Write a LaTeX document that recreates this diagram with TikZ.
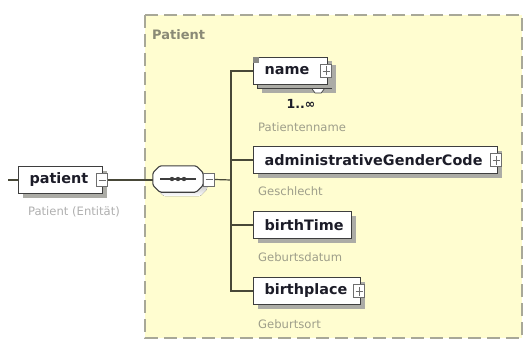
\documentclass[tikz,border=0pt]{standalone}
\usepackage{fontspec}
\setmainfont{DejaVu Sans}
\usetikzlibrary{shadows}

\definecolor{groupfill}{RGB}{255,253,208}
\definecolor{groupedge}{RGB}{168,168,152}
\definecolor{edgeline}{RGB}{72,72,56}
\definecolor{boxline}{RGB}{62,62,62}
\definecolor{shade}{RGB}{172,172,166}
\definecolor{pmline}{RGB}{110,110,110}
\definecolor{labelgray}{RGB}{158,158,138}
\definecolor{outergray}{RGB}{175,175,175}
\definecolor{titlegray}{RGB}{138,138,118}
\definecolor{nametext}{RGB}{28,28,40}

% element caption: a fixed-width box with the name set flush left
\newcommand\elemtext[2]{\makebox[#1][l]{\hspace*{11pt}#2}}
% outline of a box with cut corners, laid over the node #1
\newcommand\chamferpath[1]{([xshift=7pt]#1.north west) -- ([xshift=-7pt]#1.north east)
  -- ([yshift=-7pt]#1.north east) -- ([yshift=7pt]#1.south east) -- ([xshift=-7pt]#1.south east)
  -- ([xshift=7pt]#1.south west) -- ([yshift=7pt]#1.south west) -- ([yshift=-7pt]#1.north west) -- cycle}

\tikzset{
  boxshadow/.style={drop shadow={shadow xshift=4pt, shadow yshift=-4pt, fill=shade, opacity=1}},
  elem/.style={draw=boxline, fill=white, line width=1.1pt, minimum height=27pt,
    inner sep=0pt, anchor=west, text=nametext,
    font=\bfseries\fontsize{14.4}{17}\selectfont, boxshadow},
  pmbox/.style={draw=pmline, fill=white, line width=0.8pt, minimum width=11pt,
    minimum height=13pt, inner sep=0pt},
  minusbox/.style={pmbox, path picture={
    \draw[pmline, line width=0.9pt]
      ([xshift=2pt]path picture bounding box.west) -- ([xshift=-2pt]path picture bounding box.east);}},
  plusbox/.style={pmbox, path picture={
    \draw[pmline, line width=0.9pt]
      ([xshift=2pt]path picture bounding box.west) -- ([xshift=-2pt]path picture bounding box.east)
      ([yshift=2pt]path picture bounding box.south) -- ([yshift=-2pt]path picture bounding box.north);}},
  seqframe/.style={minimum width=50pt, minimum height=26pt, inner sep=0pt},
  conn/.style={draw=edgeline, line width=1.2pt},
  note/.style={anchor=west, text=labelgray, inner sep=0pt, font=\fontsize{11.6}{14}\selectfont},
}

\begin{document}
\begin{tikzpicture}[x=1pt,y=-1pt]
\useasboundingbox (0,0) rectangle (526,350);

% complex type group
\draw[groupedge, fill=groupfill, line width=1.3pt, dash pattern=on 13pt off 6pt]
  (145,15) rectangle (522,338);
\node[anchor=west, inner sep=0pt, text=titlegray, font=\bfseries\fontsize{13}{15}\selectfont]
  (grouptitle) at (152,35) {Patient};

% root element
\coordinate (stub) at (8,180);
\node[elem] (patient) at (18,180) {\elemtext{84pt}{patient}};
\node[minusbox] (patientpm) at ([xshift=-1pt]patient.east) {};
\node[inner sep=0pt, text=outergray, font=\fontsize{11.6}{14}\selectfont]
  (patientnote) at (74,212) {Patient (Entität)};

% sequence compositor (box with cut corners)
\node[seqframe] (seqshadow) at (182,183) {};
\node[seqframe] (seq) at (178,179) {};
\fill[shade, rounded corners=1.5pt] \chamferpath{seqshadow};
\filldraw[draw=boxline, fill=white, line width=1.1pt, rounded corners=1.5pt] \chamferpath{seq};
\draw[boxline, line width=1.2pt] ([xshift=-18pt]seq.center) -- ([xshift=18pt]seq.center);
\foreach \dx in {-6,0,6}
  \fill[boxline] ([xshift=\dx pt]seq.center) circle (2.2pt);
\node[minusbox] (seqpm) at (209,179.5) {};
\coordinate (bus) at (231,180);

% child elements
\node[elem] (nameback) at (257,75) {\elemtext{74pt}{}};
\node[elem, drop shadow={opacity=0}] (name) at (253,71) {\elemtext{74pt}{name}};
\fill[shade!80!black] (name.north west) rectangle ([xshift=6pt,yshift=-6pt]name.north west);
\node[plusbox] (namepm) at ([xshift=-2pt]name.east) {};
\draw[boxline, fill=white, line width=0.7pt]
  ([xshift=-20pt]nameback.south east) -- ([xshift=-17pt,yshift=-4pt]nameback.south east)
  -- ([xshift=-11pt,yshift=-4pt]nameback.south east) -- ([xshift=-8pt]nameback.south east);
\node[inner sep=0pt, text=nametext, font=\bfseries\fontsize{12.5}{14}\selectfont]
  (namecard) at (301,104) {1..∞};
\node[note] (namenote) at (258,127) {Patientenname};

\node[elem] (agc) at (253,160) {\elemtext{244pt}{administrativeGenderCode}};
\node[plusbox] (agcpm) at ([xshift=-2pt]agc.east) {};
\node[note] (agcnote) at (258,191) {Geschlecht};

\node[elem] (btime) at (253,225) {\elemtext{98pt}{birthTime}};
\node[note] (btimenote) at (258,257) {Geburtsdatum};

\node[elem] (bplace) at (253,291) {\elemtext{107pt}{birthplace}};
\node[plusbox] (bplacepm) at ([xshift=-2pt]bplace.east) {};
\node[note] (bplacenote) at (258,324) {Geburtsort};

% connectors
\draw[conn] (stub) -- (patient.west);
\draw[conn] (patientpm.east) -- (seq.west |- patientpm.east);
\draw[conn] (seqpm.east) -- (bus);
\draw[conn] (bus) |- (name.west);
\draw[conn] (bus) |- (agc.west);
\draw[conn] (bus) |- (btime.west);
\draw[conn] (bus) |- (bplace.west);
\end{tikzpicture}
\end{document}
